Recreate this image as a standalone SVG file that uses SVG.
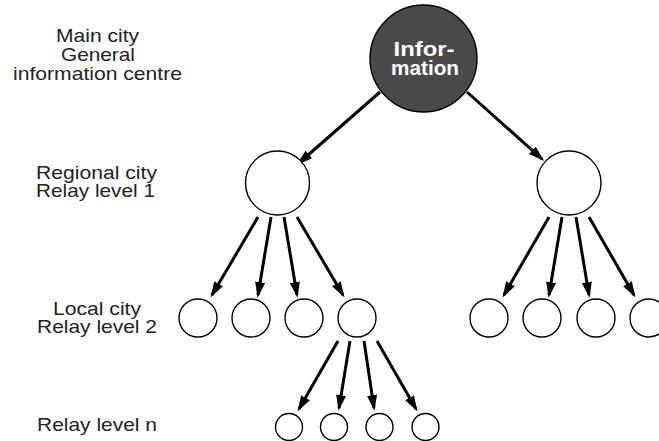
<svg xmlns="http://www.w3.org/2000/svg" width="659" height="441" viewBox="0 0 659 441">
<style>
.lbl{font-family:"Liberation Sans",Arial,Helvetica,sans-serif;font-size:18.5px;fill:#222;text-anchor:middle}
.inf{font-family:"Liberation Sans",Arial,Helvetica,sans-serif;font-size:21px;font-weight:bold;fill:#fff;text-anchor:middle}
.node{fill:#fff;stroke:#000;stroke-width:1.4}
.main{fill:#4a4a4a;stroke:#000;stroke-width:1.4}
.arr{stroke:#000;stroke-width:3;fill:none;marker-end:url(#ah)}
</style>
<defs>
<marker id="ah" viewBox="0 0 16 10" refX="13" refY="5" markerWidth="16" markerHeight="10" markerUnits="userSpaceOnUse" orient="auto">
<path d="M0,0 L16,5 L0,10 z" fill="#000"/>
</marker>
</defs>
<rect width="659" height="441" fill="#fff"/>
<g id="labels">
<text class="lbl" x="97.5" y="42" textLength="83" lengthAdjust="spacingAndGlyphs">Main city</text>
<text class="lbl" x="98" y="61" textLength="74" lengthAdjust="spacingAndGlyphs">General</text>
<text class="lbl" x="97.5" y="80" textLength="169" lengthAdjust="spacingAndGlyphs">information centre</text>
<text class="lbl" x="96.5" y="179" textLength="121" lengthAdjust="spacingAndGlyphs">Regional city</text>
<text class="lbl" x="95.5" y="197" textLength="119" lengthAdjust="spacingAndGlyphs">Relay level 1</text>
<text class="lbl" x="97" y="315" textLength="88" lengthAdjust="spacingAndGlyphs">Local city</text>
<text class="lbl" x="97" y="333" textLength="120" lengthAdjust="spacingAndGlyphs">Relay level 2</text>
<text class="lbl" x="97" y="431" textLength="120" lengthAdjust="spacingAndGlyphs">Relay level n</text>
</g>
<g id="connectors">
<line class="arr" x1="380" y1="92" x2="299" y2="163"/>
<line class="arr" x1="467" y1="92" x2="542" y2="159"/>
<line class="arr" x1="258" y1="217" x2="212" y2="295"/>
<line class="arr" x1="271" y1="217" x2="258" y2="295"/>
<line class="arr" x1="284" y1="217" x2="297" y2="295"/>
<line class="arr" x1="297" y1="217" x2="343" y2="295"/>
<line class="arr" x1="549" y1="217" x2="504" y2="295"/>
<line class="arr" x1="562" y1="217" x2="549" y2="295"/>
<line class="arr" x1="576" y1="217" x2="589" y2="295"/>
<line class="arr" x1="589" y1="217" x2="634" y2="295"/>
<line class="arr" x1="338" y1="341" x2="299" y2="409"/>
<line class="arr" x1="350" y1="341" x2="339" y2="408"/>
<line class="arr" x1="364" y1="341" x2="374" y2="408"/>
<line class="arr" x1="377" y1="341" x2="416" y2="409"/>
</g>
<g id="n-main"><circle class="main" cx="423.5" cy="58.5" r="53.5"/>
<text class="inf" x="424" y="56" textLength="61" lengthAdjust="spacingAndGlyphs">Infor-</text>
<text class="inf" x="425" y="75" textLength="68" lengthAdjust="spacingAndGlyphs">mation</text></g>
<g id="n-r1"><circle class="node" cx="277.5" cy="183" r="32"/></g>
<g id="n-r2"><circle class="node" cx="569" cy="183" r="32"/></g>
<g id="n-l1"><circle class="node" cx="198" cy="318" r="19"/></g>
<g id="n-l2"><circle class="node" cx="251" cy="318" r="19"/></g>
<g id="n-l3"><circle class="node" cx="304" cy="318" r="19"/></g>
<g id="n-l4"><circle class="node" cx="357" cy="318" r="19"/></g>
<g id="n-l5"><circle class="node" cx="489" cy="318" r="19"/></g>
<g id="n-l6"><circle class="node" cx="542" cy="318" r="19"/></g>
<g id="n-l7"><circle class="node" cx="596" cy="318" r="19"/></g>
<g id="n-l8"><circle class="node" cx="649" cy="318" r="19"/></g>
<g id="n-n1"><circle class="node" cx="289" cy="427" r="13.5"/></g>
<g id="n-n2"><circle class="node" cx="334" cy="427" r="13.5"/></g>
<g id="n-n3"><circle class="node" cx="379.5" cy="427" r="13.5"/></g>
<g id="n-n4"><circle class="node" cx="425.5" cy="427" r="13.5"/></g>
</svg>
